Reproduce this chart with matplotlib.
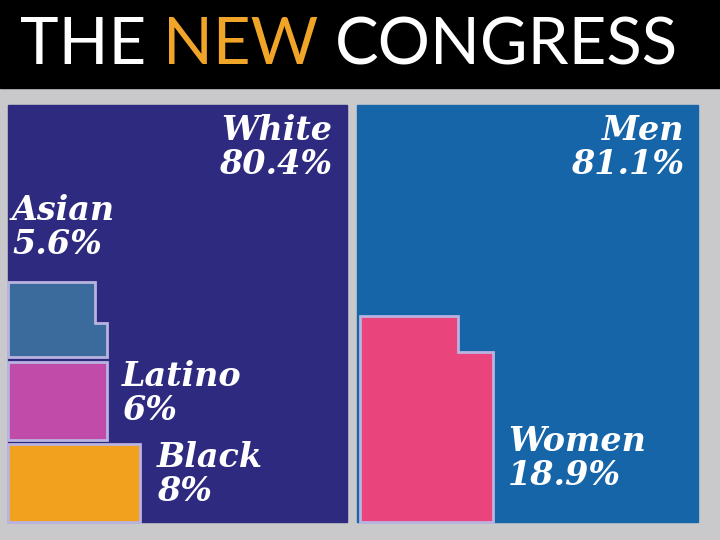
import matplotlib
matplotlib.use("Agg")
import matplotlib.pyplot as plt
from matplotlib.patches import Polygon, Rectangle

# share of the new Congress (percent)
race_labels = ["White", "Asian", "Latino", "Black"]
race_values = [80.4, 5.6, 6, 8]
gender_labels = ["Men", "Women"]
gender_values = [81.1, 18.9]
title_parts = [("THE ", "white"), ("NEW ", "#f0a428"), ("CONGRESS", "white")]

BG = "#c9c9cb"
NAVY = "#2d2a7f"
BLUE = "#1565a8"
STEEL = "#3b6b9c"
MAGENTA = "#c04ba9"
ORANGE = "#f2a11f"
PINK = "#e9457c"
EDGE = "#b9b3e0"

fig = plt.figure(figsize=(7.2, 5.4), dpi=100, facecolor=BG)
ax = fig.add_axes([0, 0, 1, 1])
ax.set_xlim(0, 720)
ax.set_ylim(540, 0)
ax.axis("off")

# title banner, pieces laid out one after another
ax.add_patch(Rectangle((0, 0), 720, 88, color="black"))
renderer = fig.canvas.get_renderer()
x = 20
for word, color in title_parts:
    t = ax.text(x, 46, word, color=color, fontsize=47, family="Lato",
                fontweight="normal", va="center", ha="left")
    bb = t.get_window_extent(renderer)
    x += bb.width  # 1 px per data unit

# panels
ax.add_patch(Rectangle((8, 105), 339, 417, color=NAVY))
ax.add_patch(Rectangle((357, 105), 341, 417, color=BLUE))

blocks = [
    (STEEL, [(8, 282), (95, 282), (95, 323), (107, 323), (107, 357), (8, 357)]),
    (MAGENTA, [(8, 362), (107, 362), (107, 440), (8, 440)]),
    (ORANGE, [(8, 444), (140, 444), (140, 522), (8, 522)]),
    (PINK, [(360, 316), (458, 316), (458, 352), (493, 352), (493, 522), (360, 522)]),
]
for color, pts in blocks:
    ax.add_patch(Polygon(pts, closed=True, facecolor=color, edgecolor=EDGE, lw=2))

txt = dict(color="white", fontsize=24, family="DejaVu Serif",
           fontweight="bold", style="italic", va="top", linespacing=1.05)
pos = {"White": (332, 114, "right"), "Asian": (12, 194, "left"),
       "Latino": (122, 360, "left"), "Black": (157, 441, "left"),
       "Men": (684, 114, "right"), "Women": (508, 425, "left")}
for lab, val in zip(race_labels + gender_labels, race_values + gender_values):
    px, py, ha = pos[lab]
    ax.text(px, py, f"{lab}\n{val:g}%", ha=ha, **txt)

fig.savefig("out.png", dpi=100, facecolor=BG)
